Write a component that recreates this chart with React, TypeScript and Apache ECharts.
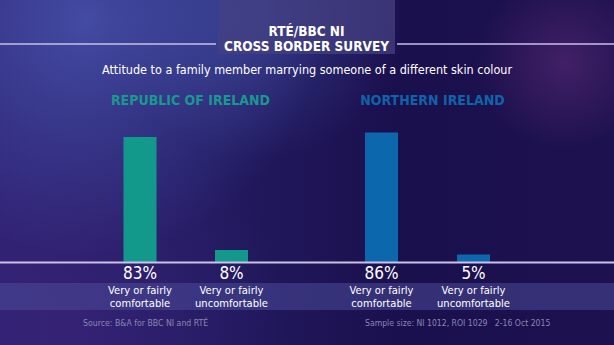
import React, { useEffect, useRef } from "react";
import * as echarts from "echarts";

const titleLines = ["RTÉ/BBC NI", "CROSS BORDER SURVEY"];
const subtitle = "Attitude to a family member marrying someone of a different skin colour";
const groups = ["REPUBLIC OF IRELAND", "NORTHERN IRELAND"];
const categories = ["Very or fairly\ncomfortable", "Very or fairly\nuncomfortable"];
const roiValues = [83, 8];
const niValues = [86, 5];
const sourceText = "Source: B&A for BBC NI and RTÉ";
const sampleText = "Sample size: NI 1012, ROI 1029   2-16 Oct 2015";

const groupValues = [roiValues, niValues];
const groupColors = ["#12998c", "#0c67ad"];
const headerColors = ["#1a9890", "#0f63a8"];

const FONT = "'DejaVu Sans Condensed', 'Open Sans', sans-serif";

export default function App() {
  const ref = useRef<HTMLDivElement>(null);

  useEffect(() => {
    document.body.style.margin = "0";
    const chart = echarts.init(ref.current!, null, { renderer: "svg" });

    const grids = [
      { left: 94.25, width: 183, top: 111.4, height: 150.6 },
      { left: 335.5, width: 184, top: 111.4, height: 150.6 },
    ];

    const xAxes = grids.map((_, gi) => ({
      type: "category",
      gridIndex: gi,
      data: categories,
      axisLine: { show: false },
      axisTick: { show: false },
      axisLabel: {
        margin: 1,
        interval: 0,
        formatter: (val: string, idx: number) => {
          const lines = val.split("\n").map((l) => `{c|${l}}`).join("\n");
          return `{p|${groupValues[gi][idx]}%}\n${lines}`;
        },
        rich: {
          p: { fontSize: 17, lineHeight: 20.5, color: "#ffffff", fontFamily: FONT },
          c: { fontSize: 11.1, lineHeight: 13, color: "#ffffff", fontFamily: FONT },
        },
      },
    }));

    const yAxes = grids.map((_, gi) => ({
      type: "value",
      gridIndex: gi,
      min: 0,
      max: 100,
      show: false,
      splitLine: { show: false },
    }));

    const series = groupValues.map((vals, gi) => ({
      type: "bar",
      xAxisIndex: gi,
      yAxisIndex: gi,
      data: vals,
      barWidth: 33,
      itemStyle: { color: groupColors[gi] },
      z: 3,
    }));

    const graphic: any[] = [
      { type: "rect", shape: { x: 0, y: 283, width: 614, height: 27 }, style: { fill: "rgba(74,74,152,0.55)" }, z: -1, silent: true },
      { type: "line", shape: { x1: 0, y1: 262.5, x2: 614, y2: 262.5 }, style: { stroke: "#c9c1e6", lineWidth: 2 }, z: 5 },
      { type: "rect", shape: { x: 218, y: 0, width: 177, height: 54 }, style: { fill: "rgba(68,64,130,0.75)" }, z: 1 },
      { type: "line", shape: { x1: 0, y1: 44, x2: 216, y2: 44 }, style: { stroke: "#c9c1e6", lineWidth: 1.5 }, z: 2 },
      { type: "line", shape: { x1: 397, y1: 44, x2: 614, y2: 44 }, style: { stroke: "#c9c1e6", lineWidth: 1.5 }, z: 2 },
      {
        type: "text", x: 306.5, y: 31, z: 3,
        style: { text: titleLines[0], fill: "#ffffff", font: `bold 13.5px ${FONT}`, align: "center", verticalAlign: "middle" },
      },
      {
        type: "text", x: 306.5, y: 45.5, z: 3,
        style: { text: titleLines[1], fill: "#ffffff", font: `bold 13.5px ${FONT}`, align: "center", verticalAlign: "middle" },
      },
      {
        type: "text", x: 307, y: 69, z: 3,
        style: { text: subtitle, fill: "#ffffff", font: `12.5px ${FONT}`, align: "center", verticalAlign: "middle" },
      },
      {
        type: "text", x: 190.5, y: 100, z: 3,
        style: { text: groups[0], fill: headerColors[0], font: `bold 14px ${FONT}`, align: "center", verticalAlign: "middle" },
      },
      {
        type: "text", x: 432.5, y: 100, z: 3,
        style: { text: groups[1], fill: headerColors[1], font: `bold 14px ${FONT}`, align: "center", verticalAlign: "middle" },
      },
      {
        type: "text", x: 83, y: 323, z: 3,
        style: { text: sourceText, fill: "#8a86b4", font: `8.7px ${FONT}`, align: "left", verticalAlign: "middle" },
      },
      {
        type: "text", x: 365, y: 323, z: 3,
        style: { text: sampleText, fill: "#8a86b4", font: `8.6px ${FONT}`, align: "left", verticalAlign: "middle" },
      },
    ];

    chart.setOption({
      animation: false,
      backgroundColor: "transparent",
      grid: grids,
      xAxis: xAxes,
      yAxis: yAxes,
      series,
      graphic,
    } as any);

    return () => chart.dispose();
  }, []);

  return (
    <div
      ref={ref}
      style={{
        position: "absolute",
        left: 0,
        top: 0,
        width: 614,
        height: 345,
        background:
          "radial-gradient(circle at 14% 6%, rgba(85,105,200,0.6), rgba(85,105,200,0) 38%)," +
          "radial-gradient(circle at 42% 4%, rgba(70,90,180,0.45), rgba(70,90,180,0) 30%)," +
          "radial-gradient(circle at 92% 18%, rgba(110,50,130,0.45), rgba(110,50,130,0) 14%)," +
          "radial-gradient(circle at 10% 95%, rgba(70,40,130,0.45), rgba(70,40,130,0) 35%)," +
          "linear-gradient(90deg, #2b2070 0%, #221a60 35%, #1b104e 65%, #1d1150 100%)",
      }}
    />
  );
}
